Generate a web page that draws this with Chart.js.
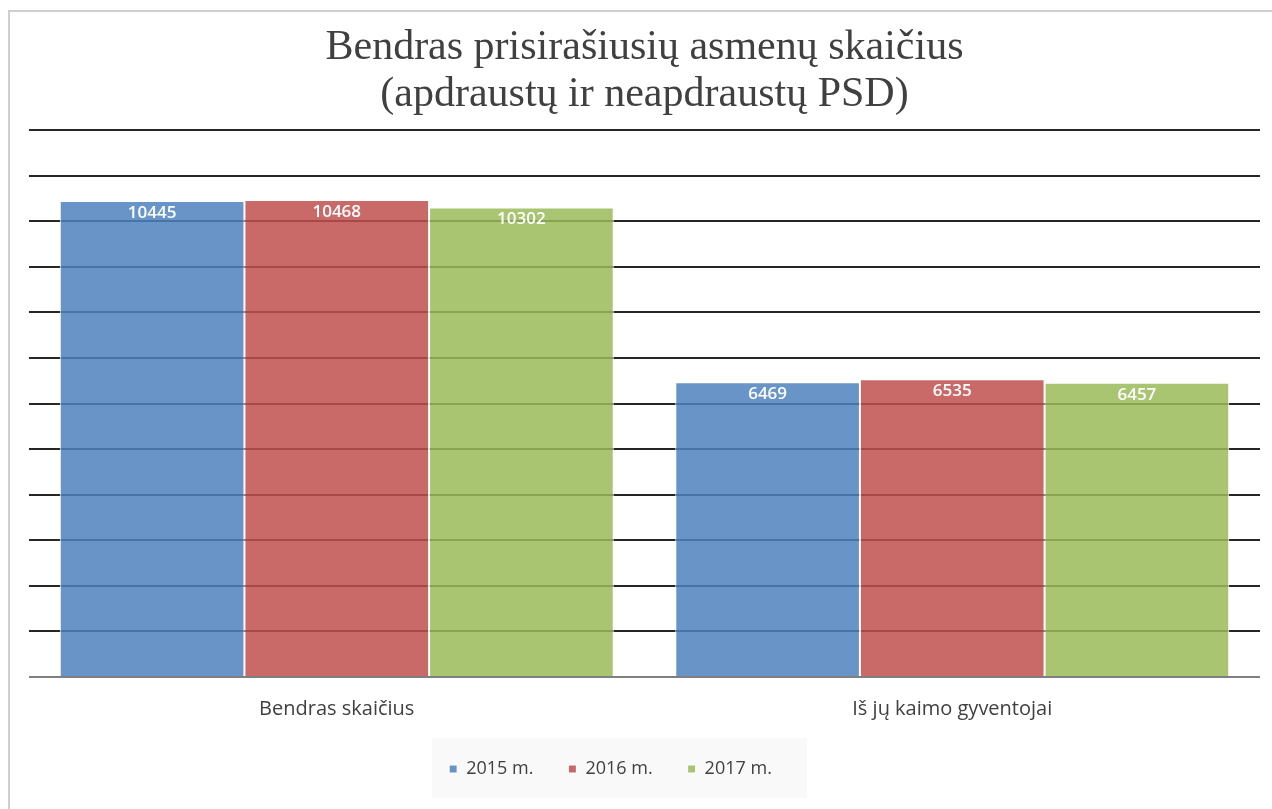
<!DOCTYPE html>
<html lang="lt">
<head>
<meta charset="UTF-8">
<title>Bendras prisirašiusių asmenų skaičius</title>
<script src="https://cdn.jsdelivr.net/npm/chart.js@4/dist/chart.umd.min.js"></script>
<style>
    body {
        margin: 0;
        background: #ffffff;
        overflow: hidden;
    }
    .frame {
        position: absolute;
        left: 8px;
        top: 10px;
        width: 1300px;
        height: 820px;
        border-left: 2px solid #cfcfcf;
        border-top: 2px solid #cfcfcf;
    }
    .box {
        position: relative;
        width: 1262px;
        height: 797px;
    }
</style>
</head>
<body>
<div class="frame">
    <div class="box"><canvas id="chart"></canvas></div>
</div>
<script>
    const categories = ['Bendras skaičius', 'Iš jų kaimo gyventojai'];
    const years = ['2015 m.', '2016 m.', '2017 m.'];
    const values2015 = [10445, 6469];
    const values2016 = [10468, 6535];
    const values2017 = [10302, 6457];
    const yMax = 12000;
    const yStep = 1000;

    const colors = ['rgba(79,129,189,0.85)', 'rgba(192,80,77,0.85)', 'rgba(155,187,89,0.85)'];
    const series = [values2015, values2016, values2017];

    // white value labels near the top of each bar
    const barLabels = {
        id: 'barLabels',
        afterDatasetsDraw(chart) {
            const ctx = chart.ctx;
            ctx.save();
            ctx.fillStyle = '#ffffff';
            ctx.font = '600 17px "Open Sans"';
            ctx.textAlign = 'center';
            ctx.textBaseline = 'middle';
            chart.data.datasets.forEach((ds, i) => {
                chart.getDatasetMeta(i).data.forEach((bar, j) => {
                    ctx.fillText(ds.data[j], bar.x, bar.y + 12);
                });
            });
            ctx.restore();
        }
    };

    // legend sits a bit left of centre in the original
    const legendShift = {
        id: 'legendShift',
        afterLayout(chart) {
            if (chart.legend) chart.legend.left -= 68;
        }
    };

    // faint panel behind the legend
    const legendPanel = {
        id: 'legendPanel',
        beforeDraw(chart) {
            const lg = chart.legend;
            if (!lg || !lg.legendHitBoxes.length) return;
            const first = lg.legendHitBoxes[0];
            const last = lg.legendHitBoxes[lg.legendHitBoxes.length - 1];
            const mid = first.top + first.height / 2;
            const ctx = chart.ctx;
            ctx.save();
            ctx.fillStyle = '#f9f9f9';
            ctx.fillRect(first.left - 17, mid - 31, last.left + last.width - first.left + 52, 60);
            ctx.restore();
        }
    };

    new Chart(document.getElementById('chart'), {
        type: 'bar',
        data: {
            labels: categories,
            datasets: years.map((y, i) => ({
                label: y,
                data: series[i],
                backgroundColor: colors[i],
                borderColor: '#ffffff',
                borderWidth: 1,
                categoryPercentage: 0.9,
                barPercentage: 1.0
            }))
        },
        options: {
            responsive: true,
            maintainAspectRatio: false,
            animation: false,
            layout: {
                padding: { left: 19, right: 12, top: 0, bottom: 21 }
            },
            scales: {
                x: {
                    grid: { display: false },
                    border: { display: false },
                    ticks: {
                        color: '#404040',
                        font: { family: '"Open Sans"', size: 20 },
                        padding: 12
                    },
                    afterFit(scale) { scale.height -= 8; }
                },
                y: {
                    min: 0,
                    max: yMax,
                    ticks: { display: false, stepSize: yStep },
                    border: { display: false },
                    grid: {
                        drawTicks: false,
                        lineWidth: 2,
                        color: (c) => c.tick && c.tick.value === 0 ? '#7f7f7f' : '#262626'
                    }
                }
            },
            plugins: {
                title: {
                    display: true,
                    text: ['Bendras prisirašiusių asmenų skaičius', '(apdraustų ir neapdraustų PSD)'],
                    color: '#404040',
                    font: { family: '"Liberation Serif"', size: 42, weight: 'normal', lineHeight: 1.12 },
                    padding: { top: 12, bottom: 12 }
                },
                legend: {
                    position: 'bottom',
                    labels: {
                        color: '#404040',
                        font: { family: '"Open Sans"', size: 18 },
                        boxWidth: 8,
                        boxHeight: 8,
                        padding: 35
                    }
                },
                tooltip: { enabled: false }
            }
        },
        plugins: [barLabels, legendShift, legendPanel]
    });
</script>
</body>
</html>
